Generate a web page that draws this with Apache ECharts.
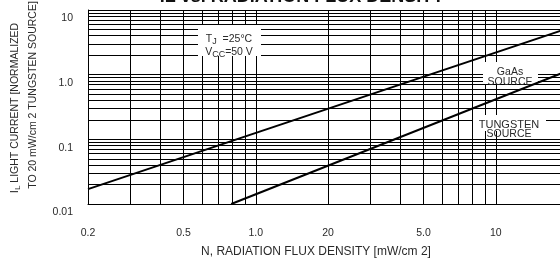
<!DOCTYPE html>
<html>
<head>
<meta charset="utf-8">
<script src="https://cdn.jsdelivr.net/npm/echarts@6/dist/echarts.min.js"></script>
<style>
  html, body { margin: 0; padding: 0; background: #fff; }
  #chart { width: 560px; height: 260px; }
</style>
</head>
<body>
<div id="chart"></div>
<script>
// grid lines of the log-log paper
const fluxGrid = [0.2, 0.3, 0.4, 0.5, 0.6, 0.7, 0.8, 0.9, 1, 2, 3, 4, 5, 6, 7, 8, 9, 10, 20];
const fluxTicks = [0.2, 0.5, 1, 2, 5, 10, 20];
const fluxTickLabels = ["0.2", "0.5", "1.0", "20", "5.0", "10", "20"];

const currentGrid = [
    0.01, 0.02, 0.03, 0.04, 0.05, 0.06, 0.07, 0.08, 0.09,
    0.1, 0.2, 0.3, 0.4, 0.5, 0.6, 0.7, 0.8, 0.9,
    1, 2, 3, 4, 5, 6, 7, 8, 9, 10
];
const currentTicks = [0.01, 0.1, 1, 10];
const currentTickLabels = ["0.01", "0.1", "1.0", "10"];

// the two source curves (straight on log-log)
const gaasFlux = [0.2, 20];
const gaasCurrent = [0.017, 5.2];
const tungstenFlux = [0.79, 20];
const tungstenCurrent = [0.01, 1.15];

const FONT = "'Liberation Sans', Arial, sans-serif";
const TEXT = "#2a2a2a";

function labelFor(ticks, labels) {
    return function (v) {
        const i = ticks.findIndex(t => Math.abs(Math.log10(t) - Math.log10(v)) < 1e-6);
        return i >= 0 ? labels[i] : "";
    };
}

const chart = echarts.init(document.getElementById("chart"), null, { renderer: "canvas" });

const option = {
    animation: false,
    backgroundColor: "#fff",
    grid: { left: 88, top: 10, right: -8, bottom: 56, outerBoundsMode: "none", containLabel: false },
    xAxis: {
        type: "log",
        logBase: 10,
        min: 0.2,
        max: 20,
        axisLine: { show: true, lineStyle: { color: "#000", width: 1 } },
        axisTick: { show: false, customValues: fluxGrid },
        splitLine: { show: true, lineStyle: { color: "#000", width: 1 } },
        axisLabel: {
            customValues: fluxTicks,
            formatter: labelFor(fluxTicks, fluxTickLabels),
            margin: 24,
            fontSize: 10.5,
            fontFamily: FONT,
            color: TEXT
        }
    },
    yAxis: {
        type: "log",
        logBase: 10,
        min: 0.01,
        max: 10,
        axisLine: { show: true, lineStyle: { color: "#000", width: 1 } },
        axisTick: { show: false, customValues: currentGrid },
        splitLine: { show: true, lineStyle: { color: "#000", width: 1 } },
        axisLabel: {
            customValues: currentTicks,
            formatter: labelFor(currentTicks, currentTickLabels),
            margin: 15,
            fontSize: 10.5,
            fontFamily: FONT,
            color: TEXT,
            verticalAlign: "top",
            padding: [3, 0, 0, 0]
        }
    },
    graphic: [
        // clipped title
        {
            type: "text", x: 302, y: -3, z: 20,
            style: {
                text: "IL vs. RADIATION FLUX DENSITY",
                font: "bold 18px " + FONT, fill: "#111",
                textAlign: "center", textVerticalAlign: "middle"
            }
        },
        // y axis title, two rotated lines
        {
            type: "text", x: 15, y: 108, rotation: Math.PI / 2, z: 20,
            style: {
                text: "{i|I}{s|L} LIGHT CURRENT [NORMALIZED",
                textAlign: "center", textVerticalAlign: "middle",
                rich: {
                    t: { fontSize: 10.5, fontFamily: FONT, fill: TEXT },
                    i: { fontSize: 11.5, fontFamily: FONT, fill: TEXT },
                    s: { fontSize: 8, fontFamily: FONT, fill: TEXT, padding: [6, 0, 0, 0] }
                },
                font: "10.5px " + FONT, fill: TEXT
            }
        },
        {
            type: "text", x: 33, y: 95, rotation: Math.PI / 2, z: 20,
            style: {
                text: "TO 20 mW/cm 2 TUNGSTEN SOURCE]",
                font: "10.5px " + FONT, fill: TEXT,
                textAlign: "center", textVerticalAlign: "middle"
            }
        },
        // x axis title
        {
            type: "text", x: 316, y: 252, z: 20,
            style: {
                text: "N, RADIATION FLUX DENSITY [mW/cm 2]",
                font: "12px " + FONT, fill: TEXT,
                textAlign: "center", textVerticalAlign: "middle"
            }
        },
        // condition box
        { type: "rect", z: 5, shape: { x: 198, y: 25, width: 63, height: 31 }, style: { fill: "#fff" } },
        {
            type: "text", x: 229, y: 39, z: 6,
            style: {
                text: "{b|T}{s|J}{b|  =25°C}",
                textAlign: "center", textVerticalAlign: "middle",
                rich: {
                    b: { fontSize: 10.5, fontFamily: FONT, fill: TEXT },
                    s: { fontSize: 9, fontFamily: FONT, fill: TEXT, padding: [5, 0, 0, 0] }
                }
            }
        },
        {
            type: "text", x: 229, y: 52, z: 6,
            style: {
                text: "{b|V}{s|CC}{b|=50 V}",
                textAlign: "center", textVerticalAlign: "middle",
                rich: {
                    b: { fontSize: 10.5, fontFamily: FONT, fill: TEXT },
                    s: { fontSize: 9, fontFamily: FONT, fill: TEXT, padding: [5, 0, 0, 0] }
                }
            }
        },
        // GaAs label
        { type: "rect", z: 5, shape: { x: 483, y: 62, width: 55, height: 22 }, style: { fill: "#fff" } },
        {
            type: "text", x: 510, y: 72, z: 6,
            style: { text: "GaAs", font: "10.5px " + FONT, fill: TEXT, textAlign: "center", textVerticalAlign: "middle" }
        },
        {
            type: "text", x: 510, y: 82, z: 6,
            style: { text: "SOURCE", font: "10.5px " + FONT, fill: TEXT, textAlign: "center", textVerticalAlign: "middle" }
        },
        // tungsten label
        { type: "rect", z: 5, shape: { x: 473, y: 115, width: 73, height: 16 }, style: { fill: "#fff" } },
        {
            type: "text", x: 509, y: 125, z: 6,
            style: { text: "TUNGSTEN", font: "11px " + FONT, fill: TEXT, textAlign: "center", textVerticalAlign: "middle" }
        },
        {
            type: "text", x: 509, y: 134, z: 6,
            style: { text: "SOURCE", font: "10.5px " + FONT, fill: TEXT, textAlign: "center", textVerticalAlign: "middle" }
        }
    ],
    series: [
        {
            name: "GaAs",
            type: "line",
            z: 10,
            symbol: "none",
            lineStyle: { color: "#000", width: 2 },
            data: gaasFlux.map((f, i) => [f, gaasCurrent[i]])
        },
        {
            name: "Tungsten",
            type: "line",
            z: 10,
            symbol: "none",
            lineStyle: { color: "#000", width: 2 },
            data: tungstenFlux.map((f, i) => [f, tungstenCurrent[i]])
        }
    ]
};

chart.setOption(option);
</script>
</body>
</html>
